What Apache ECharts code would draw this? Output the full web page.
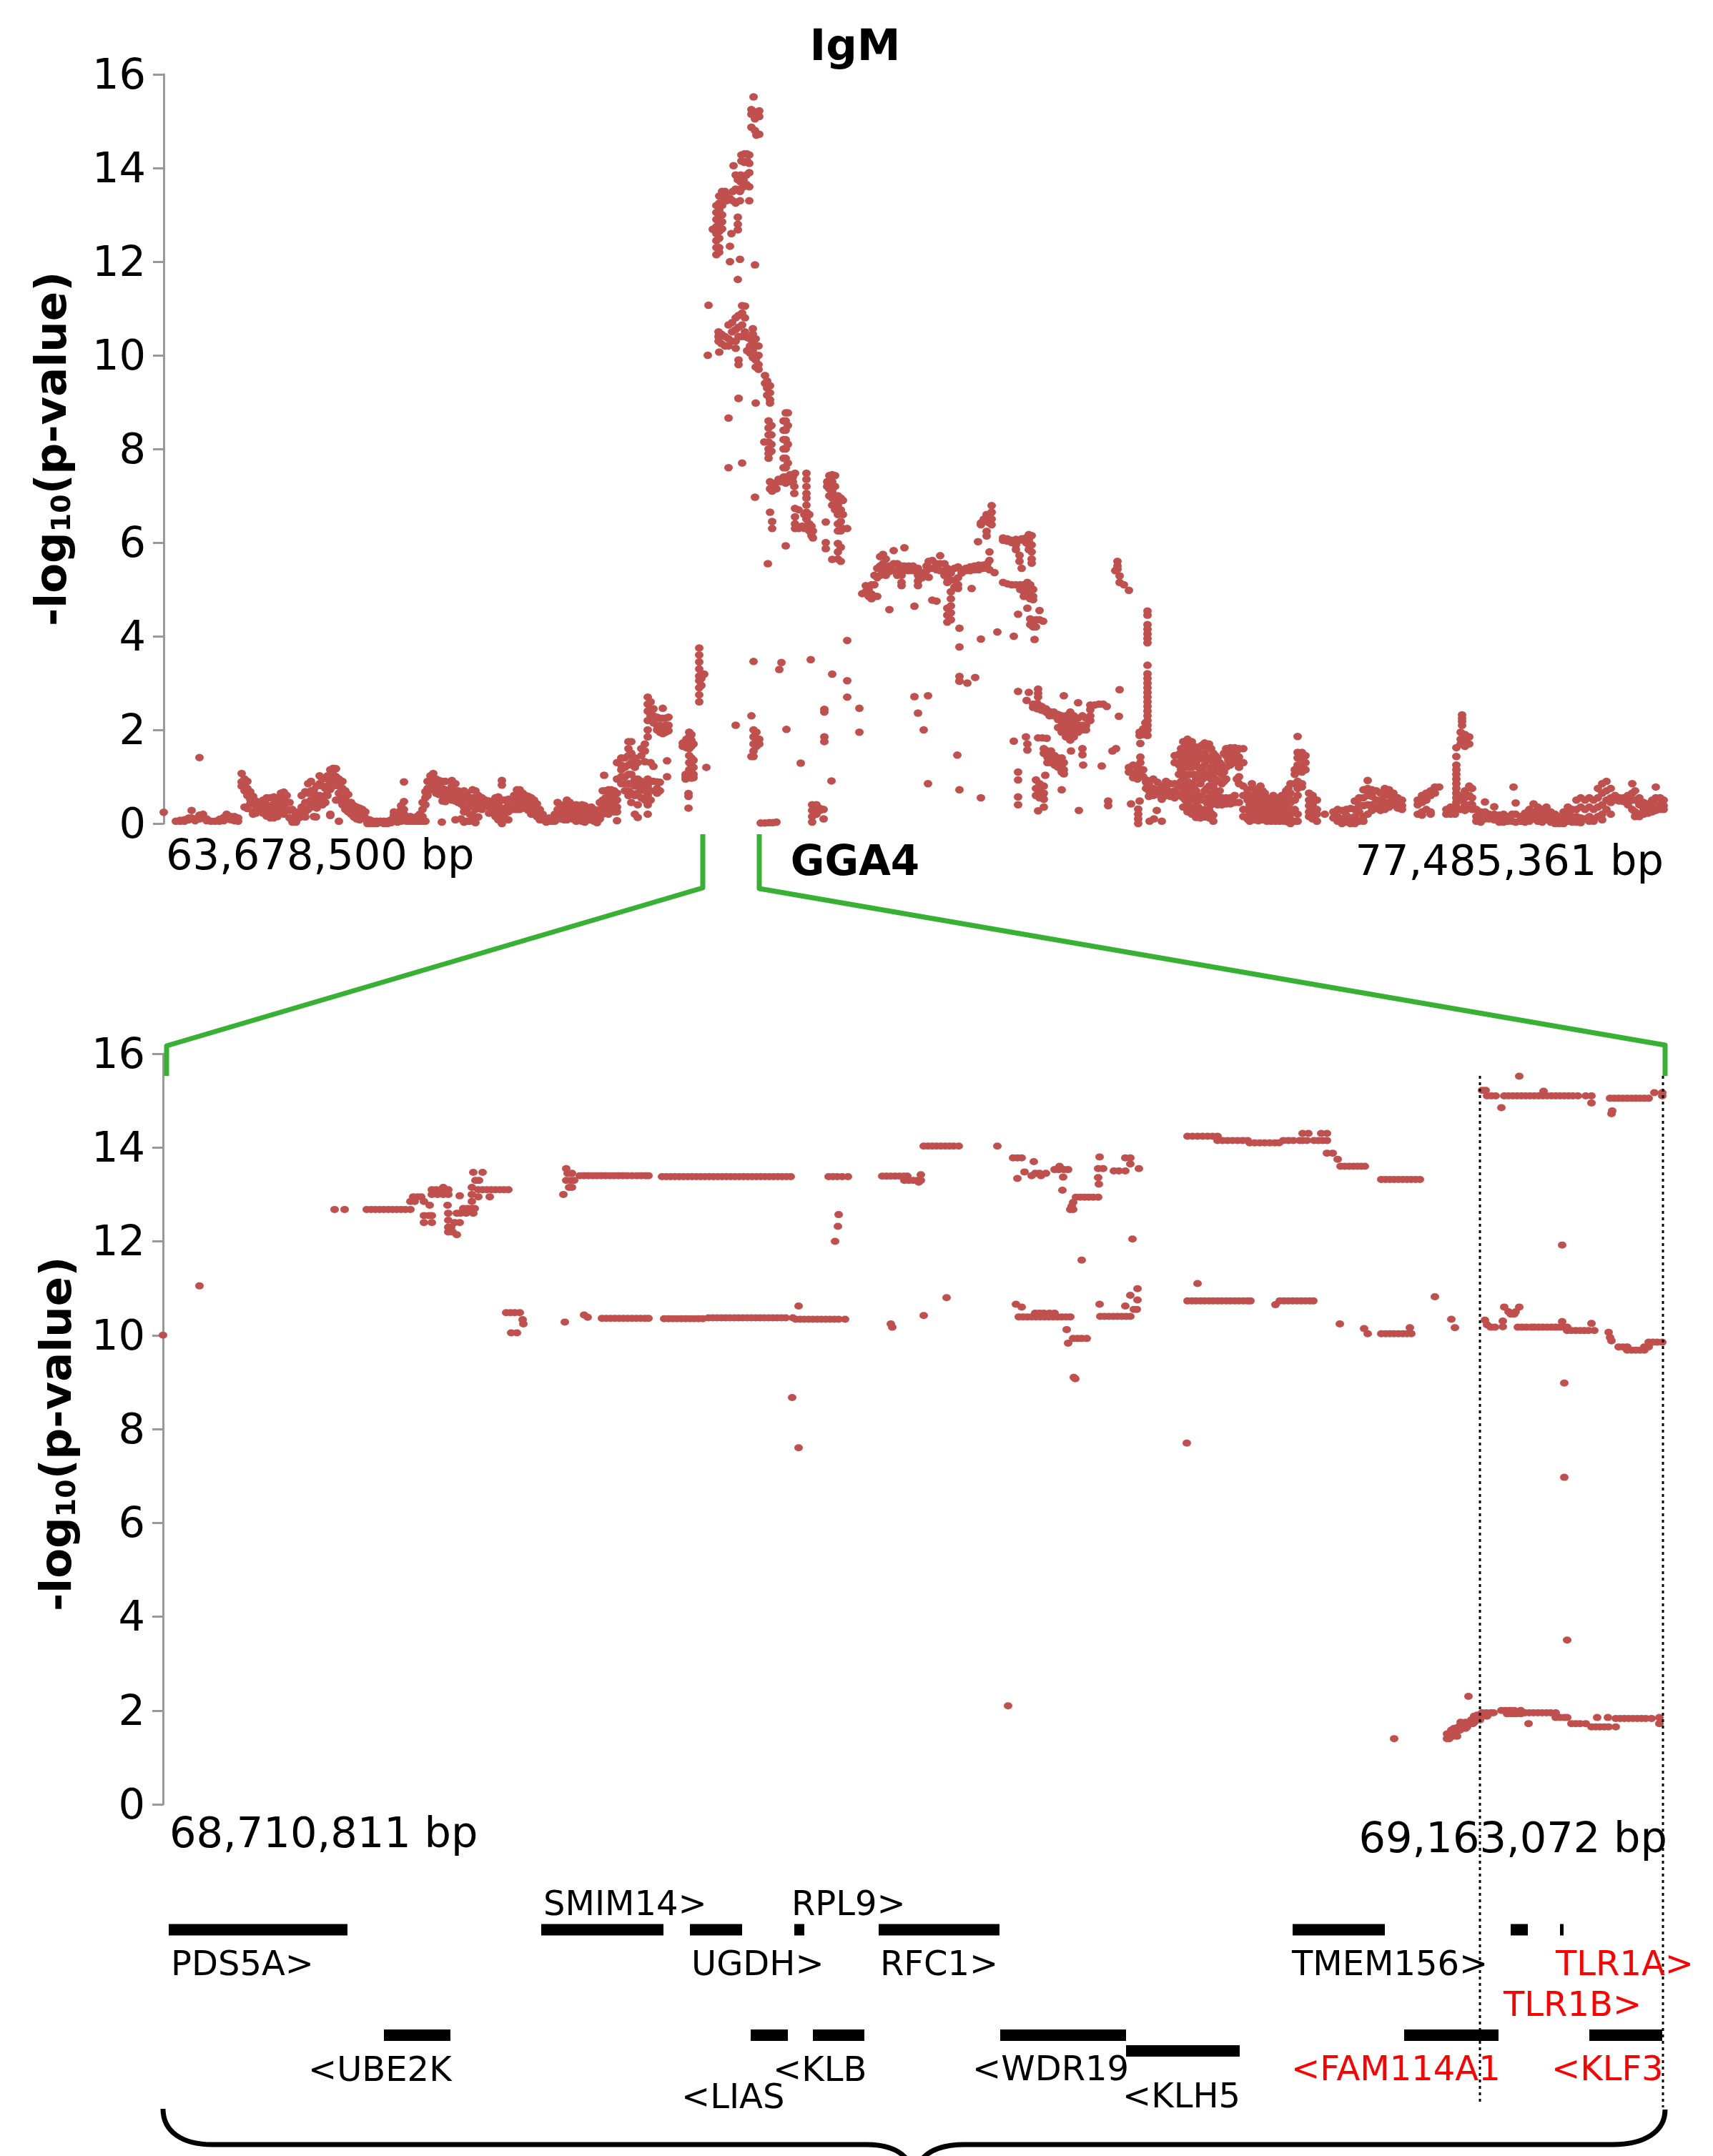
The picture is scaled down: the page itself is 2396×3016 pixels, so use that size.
<!DOCTYPE html>
<html><head><meta charset="utf-8">
<style>html,body{margin:0;padding:0;background:#fff}#c{width:2396px;height:3016px}</style>
<script src="https://cdn.jsdelivr.net/npm/echarts@6/dist/echarts.min.js"></script>
</head><body><div id="c"></div>
<script>
// Genome windows (bp)
const overviewWindow = [63678500, 77485361];
const zoomWindow = [68710811, 69163072];
// Positions below (0 = window start, overviewSpan / zoomSpan = window end)
const overviewSpan = 2098;
const zoomSpan = 2100;
const yTicks = [0, 16, 2];

// Overview: [position, -log10 p values...] by column
const overviewFlank = [
[0,.24],[17,.05],[23,.05,.07],[29,.05,.08],[35,.08,.12],[39,.28,.12],[44,.06,.1],[50,1.41,.1,.18],[55,.2,.12],[60,.1,.06],[66,.05],[72,.05],[78,.05,.09],[84,.06,.13],[88,.2,.1],[94,.08,.15],[99,.06,.12,.15],[104,.05,.12],
[109,1.07,.89,.8],[113,.95,.85,.7,.35],[117,.9,.75,.6,.32],[121,.68,.52,.42],[125,.58,.45,.25,.2],[129,.48,.36,.22],[134,.45,.35,.26],[139,.5,.3,.22],[144,.55,.4,.25,.16],[149,.55,.35,.2,.12],[154,.57,.42,.28,.12],[159,.55,.38,.25,.15],[164,.65,.5,.3],[168,.67,.55,.42,.2],[172,.6,.45,.3],[176,.45,.28,.12],[180,.3,.12,.03],[185,.2,.03,.1],[189,.25,.12],[193,.6,.35,.15],[198,.68,.45,.25,.14],[202,.85,.65,.45,.3],[206,.9,.7,.5,.35],[210,.72,.55,.38,.15],[213,.14],[214,.8,.6,.45,.33],[218,1.02,.85,.6,.42],[222,.95,.8,.55,.4],[226,.75,.6,.45],[229,1.02,.95,.8,.6],[233,1.15,1.02,.88,.73,.2,.17],[237,1.18,1.05,.9,.8],[241,1.17,1.0,.85,.5],[245,.95,.8,.65,.5,.05],[250,.9,.75,.55,.4],[254,.7,.55,.38,.3],[258,.62,.45,.35,.25],[262,.45,.33,.2],[266,.38,.25,.14],[270,.35,.22,.1],[274,.33,.2,.08],[278,.3,.15],[282,.25,.12],
[285,.05,0],[288,.08,0],[293,.05,0],[298,.05,0],[303,.05,.02],[308,.05,0],[313,.05,0],[318,.08,.02],[322,.25,.18,.05],[327,.2,.1,.03],[332,.38,.3,.12,.05],[336,.89,.47,.3,.2,.06],[340,.15,.05],[345,.05,.15],[350,.08,.05],[354,.15,.05],[358,.2,.1,.05],[362,.45,.3,.15,.05],
[366,.68,.55,.4,.05],[369,.9,.75,.6],[373,1.02,.88,.72],[377,1.07,.92,.75],[381,.95,.8,.65],[385,.92,.78,.62],[389,.03],[390,.9,.75,.6,.48],[394,.9,.72,.55,.47],[398,.7,.55],[403,.92,.8,.6,.5],[408,.85,.7,.55,.48,.08],[412,.7,.55,.45],[416,.65,.5,.42,.1],[420,.7,.55,.35,.25,.03],[424,.65,.5,.3,.05],[428,.55,.38,.2,.05],[432,.72,.55,.42,.18,.07],[436,.7,.55,.42,.3,.02],[440,.6,.5,.32,.14],[445,.55,.45,.3],[450,.5,.42],[455,.48,.35,.22],[460,.45,.28],[464,.55,.35,.22,.15],[468,.57,.4,.28,.08],[473,.92,.82,.5,.33,.2,0],[477,.5,.32,.12],[482,.52,.4,.25,.08],[486,.5,.3],[490,.6,.45,.3],[494,.72,.58,.45,.3],[498,.72,.55,.4,.3],[502,.65,.5,.35],[506,.6,.45,.32],[510,.58,.4,.28],[514,.55,.42,.3,.2],[518,.5,.35,.2],[522,.42,.3,.15],[526,.3,.18,.08],[530,.2,.08],[535,.03,.08],[539,.05,.12],[543,.05],[547,.1,.05,.2],
[551,.45,.3,.2],[555,.35,.2,.1],[560,.4,.25,.15,.08],[564,.5,.3,.2,.08],[568,.45,.3,.15],[572,.35,.2,.1],[577,.4,.3,.15,.05],[581,.35,.2,.1],[585,.4,.25,.1,.05],[589,.38,.22,.1,.03],[594,.3,.2,.08],[598,.35,.2,.08],[602,.3,.15,.05],[606,.25,.1,.02],[610,.45,.3,.1],[614,.7,.5,.35,.2],[616,1.03],[618,.7,.55,.4,.25],[622,.72,.55,.4,.2],[626,.72,.6,.45,.3],[630,.7,.55,.35,.25],[634,1.3,.95,.65,.5,.35,.25,.06],
[640,1.4,1.25,1.15,1.0,.85],[645,1.4,1.2,1.0,.85,.7],[650,1.75,1.6,1.45,1.25,1.05,.85,.7,.6],[654,1.75,1.5,1.3,1.05,.85,.65,.45],[659,1.4,1.2,.95,.8,.6,.2],[663,1.3,.95,.8,.65,.4,.13],[668,1.6,1.45,.9,.75,.55],[673,1.7,1.55,1.32,.85,.7,.5],
[677,2.7,2.55,2.4,2.2,2.0,1.85,.95,.8,.6,.4,.2],[681,2.6,2.45,2.3,1.3,.9,.7,.5],[685,2.45,2.3,2.15,1.22,.9],[690,2.27,2.1,2.0,.89,.75,.65],[694,2.25,2.1,1.95,.88,.7],[698,2.46,2.25,2.05,1.92],[702,2.25,2.1,1.95],[704,1.34,1.0],[706,2.27,2.1,1.98],
[726,1.72,1.65],[730,1.05,1.0,.95],[731,1.8,1.68,1.62],[734,.64,.58,.33],[735,1.95,1.85,1.72,1.6,1.45,1.3,1.15,1.0],[738,1.9,1.78,1.65,1.4,1.25,1.1,.97],[741,1.7,1.35,1.2,1.05,.98],[749,3.75,3.6,3.45,3.3,3.15,3.05,2.9,2.75,2.6],[752,3.1,3.2,2.95],[756,3.19],[759,1.2]
];
const overviewPeak = [
[825,15.52],[822,15.25,15.15,14.87],[827,15.2,15.05,14.8],[833,15.22,15.1,14.72],[829,14.7],
[808,14.28,14.15],[812,14.3,14.12],[816,14.3,14.15],[819,14.28,14.1],[797,14.05],[800,13.85],[803,13.75,12.95,12.8,12.68,11.62],[807,13.85,13.7,13.55],[811,13.75,13.6],[815,13.85,13.65],[819,13.9,13.6,13.3],
[787,13.45,13.3],[792,13.35,12.33,12.0],[796,13.5,13.3],[800,13.55,13.25],[806,13.5,13.3,12.05],[794,12.6],[827,11.93],
[773,13.2,13.05,12.9,12.75,12.6,12.45,12.3,12.15],[777,13.4,13.25,13.1,12.95,12.8,12.65,12.5,12.3,12.2],[781,13.5,13.4,13.2,13.0,12.85,12.7],[768,12.69],[785,13.5,13.35],
[762,11.07],[761,10.0],[776,10.5,10.4,10.3],[780,10.45,10.25],[785,10.4,10.2],[790,10.65,10.35,10.2],[795,10.7,10.5,10.3],[800,10.8,10.55,10.3,10.15],[804,10.85,10.6,10.4,9.9,9.8,9.08],[809,11.06,10.9,10.65,10.4],[813,11.05,10.8,10.5],[777,10.07],
[816,10.38,10.1],[820,10.35,10.2,10.05],[824,10.57,10.45,10.3,10.1,9.95],[828,10.35,10.2,9.9,9.75,8.98],[832,10.2,10.0,9.8,9.7],
[841,9.57,9.4],[844,9.45,9.3,9.15],[848,9.35,9.2,9.05,8.98],[804,9.08],[790,8.66,7.6],[809,7.7],[827,6.97],
[846,8.6,8.45,8.3,8.15,8.0,7.9,7.8],[840,8.15],[850,8.5,8.3,8.1,7.95],
[867,8.6,8.4,8.2,8.0,7.8,7.6,7.4],[870,8.77,8.6,8.4,8.2,8.0,7.8,7.6,7.4,7.27,5.93],[873,8.77,8.5,8.1,7.7,7.4],[860,7.35],[864,7.3],[876,7.45,7.3],[880,7.4,7.3],[883,7.48,6.73,6.55,6.4,6.3],[882,7.2,7.05],[848,7.3,7.15,6.65],[851,7.25,7.1,6.45,6.3],[857,7.28,7.15],[845,5.55],
[899,7.48,7.35,7.2,7.05,6.95,6.8,6.65,6.5,6.35],[903,6.6,6.4,6.25],[906,6.35,6.15],[908,6.25,6.1],[888,6.7,6.3],[893,6.35],[896,6.6,6.3],
[928,7.3,7.2],[931,7.43,7.3,7.15,7.0],[935,7.45,7.3,7.1,6.95,6.8],[939,7.43,7.2,7.0,6.85,6.7],[943,7.0,6.8,6.6,6.4,6.25,5.98,5.8,5.65],[947,6.95,6.7,6.45,6.25,5.9,5.6],[950,6.9,6.6,6.3],[956,6.3],[926,6.44,6.0,5.87],[935,5.64]
];
const overviewShoulder = [
[977,4.91],[982,5.08,4.95],[986,5.0,4.85],[990,5.1,4.9,4.8],[994,5.3,5.1,4.85],[998,5.45,5.25,4.85],[1002,5.7,5.5,5.3],[1006,5.75,5.55,5.4],[1010,5.65,5.45,5.3],[1015,5.5,5.38,4.57],[1021,5.83,5.55,5.4],[1026,5.55,5.4,5.3],[1032,5.5,5.3,5.08,5.15],[1036,5.89,5.5,5.4],[1042,5.5,5.4],[1048,5.5,5.4],[1050,4.64],[1055,5.45,5.3,5.08,5.18],[1061,5.35,5.25],
[1067,5.5,5.4],[1070,5.6,5.45,5.26],[1075,5.62,5.45,4.77],[1081,5.55,5.42,4.75],[1086,5.72,5.55,5.4],[1092,5.55,5.4,5.3],[1096,5.45,5.25,5.15,4.6,4.45,4.3],[1101,5.35,5.2,4.95,4.8,4.65,4.5,4.35],[1106,5.45,5.2,5.05],[1111,5.48,5.25,5.1,5.02],[1116,5.4,5.35],[1122,5.45,5.4],[1128,5.48,5.4],[1130,5.02],[1134,5.5,5.42],[1140,5.52,5.42],[1146,5.52,5.45],[1152,5.55,5.45],[1155,5.8,5.62,5.42],[1162,5.36],
[1113,4.17,3.77,3.14,3.04],[1143,3.94],[1166,4.09],[1189,4.0],[1218,3.93],[1124,3.0],[1135,3.12],
[1158,6.79,6.65,6.5,6.38],[1143,6.42,6.38],[1147,6.5],[1151,6.6,6.45,6.24,6.14],[1155,6.58,6.42],[1139,6.02],
[1174,6.1,6.05],[1180,6.08,6.03],[1186,6.05,6.0],[1192,6.07,5.95,5.85],[1197,6.05,5.73,5.6],[1200,6.08,5.45],[1206,6.1,6.0],[1210,6.17,6.05,5.95,5.85],[1214,6.15,5.95,5.8,5.65,5.56],
[1174,5.15],[1180,5.12],[1186,5.1],[1192,5.1],[1198,5.1,5.0],[1203,5.1,4.95,4.85],[1208,5.15,5.0,4.85,4.6],[1212,5.1,4.95,4.8,4.37,4.25],[1216,5.0,4.85,4.78,4.3,4.2],[1220,4.35,4.2],[1225,4.55,4.35],[1230,4.32],[1195,4.47],
[1334,5.6,5.5,5.43],[1331,5.4],[1337,5.29,5.15],[1343,5.1],[1350,4.98],
[1376,4.54,4.45,4.25,4.15,4.05,3.95,3.86,3.38,3.2,3.1,3.0,2.9,2.8,2.7,2.6,2.5,2.4,2.3,2.2,2.1,2.0,1.88],[1365,1.95,1.88],[1370,2.02,1.9],[1373,2.15,1.95],
[1337,2.86],[1336,2.29],
[973,2.46,1.95],[1050,2.71],[1069,2.73,.85],[1055,2.36],[1063,2.0],[1110,1.46],[1113,3.04,.72],[1143,.55],
[825,3.46],[864,3.44],[861,3.29],[905,3.5],[956,3.91,3.05,2.7],[935,3.19],[924,2.44,2.38,1.85,1.75],[822,2.3,1.43],[800,2.1],[871,2.01],[825,2.0,1.85,1.7,1.55,1.43],[829,1.95,1.8,1.65],[833,1.8,1.7],[891,1.29],[934,.91],[907,.4,.28,.15,.03],[913,.4,.3,.2],[918,.32,.28],[923,.3,.1],[835,.01],[841,.01],[847,.02],[852,.02],[857,.03],
[1195,2.82,1.1,.93,.57,.4],[1210,2.8],[1207,2.63],[1223,2.87,2.78,2.7,.27],[1216,2.55,2.48],[1222,2.56,2.45],[1228,2.5,2.42],[1234,2.45,2.38],[1239,2.39,2.3],[1245,2.38,2.3],[1251,2.33,2.22,2.05],[1256,2.3,2.2,2.1,1.95],[1259,2.73,2.25,2.05],[1262,2.3,2.15,2.0,1.85],[1268,2.38,2.2,2.05,1.9,1.78],[1273,2.3,2.15,2.0,1.85],[1279,2.58,2.25,2.1,1.95],[1285,2.3,2.1,2.0],[1290,2.25,2.1,2.0],[1296,2.53,2.43,2.3,2.2],[1302,2.53],[1308,2.55],[1314,2.55],[1319,2.5],
[1189,1.76],[1206,1.85],[1208,1.7,1.57],[1223,1.83],[1229,1.83],[1235,1.82],[1231,1.6,1.5,.8,.65,.52,.35],[1236,1.55,1.42,1.3],[1241,1.55,1.4,1.3],[1246,1.45,1.35,1.25],[1251,1.4,1.3,1.2],[1256,1.4,1.25,1.1,.72],[1259,1.3,1.15,1.06],[1269,1.55],[1285,1.6,1.47],[1286,1.25],[1312,1.23],[1327,1.55],[1332,1.6],[1220,.93,.75,.6],[1225,.85,.7,.55],[1233,1.03],[1280,.28],[1321,.48,.38]
];
const overviewTail = [
[1350,1.2,1.1],[1356,1.25,1.08,.98],[1362,1.18,1.05,.95],[1366,1.71,1.42,1.3,1.1],[1370,1.15,1.0],[1374,.93,.88,.75],[1353,.42],[1365,.48],[1363,.31,.2,.1,0],[1389,.28],[1379,.05],[1396,.05],[1385,.1],
[1378,.85,.7,.58],[1384,.95,.75,.6],[1390,.88,.72,.62],[1396,.8,.65,.52],[1402,.9,.75,.6],[1408,.85,.68,.58],[1414,1.45,1.3,.85,.7,.55],[1420,1.48,1.25,1.05,.8,.6],[1426,1.75,1.45,1.25,.95,.7,.55,.35],[1432,1.8,1.6,1.4,1.2,.9,.65,.4,.25],[1438,1.75,1.5,1.2,.85,.6,.3,.2],[1444,1.55,1.3,.95,.7,.45,.25,.13],[1450,1.65,1.5,1.1,.85,.5,.2,.12],[1456,1.72,1.5,1.25,1.0,.7,.3,.14],[1462,1.7,1.4,1.1,.8,.55,.3,.12],[1468,1.5,1.3,1.05,.8,.5,.05,.18],[1474,1.4,1.15,.9,.6,.4],[1480,1.25,1.05,.85,.55,.4],[1486,1.6,1.45,1.2,.95,.55,.42],[1492,1.62,1.4,1.25,.55,.42],[1498,1.62,1.45,1.3,.6,.45],[1504,1.6,1.42,1.2,1.0,.85,.45],[1510,1.6,1.3,.8,.6,.3,.15],[1516,.72,.5,.3,.15,.1],[1522,.85,.6,.4,.2,.1],[1528,.7,.55,.35,.15],[1534,.8,.55,.3,.12],[1540,.65,.45,.25,.15],[1546,.5,.3,.2,.12],[1552,.6,.45,.25,.08],[1558,.55,.35,.15,.1],[1564,.6,.45,.3,.15],[1570,.7,.5,.25,.1],[1576,.85,.65,.45,.2,.08,0],[1582,1.15,1.05,.85,.5,.3,.05],[1586,1.86,1.52,1.4,1.25,1.15,.9,.75,.6,.2,.05],[1592,1.52,1.38,1.25,1.1,.85,.78],[1597,1.45,1.3,1.15],[1602,.65,.5,.38,.25,.15],[1607,.6,.4,.25,.1],[1613,.5,.3,.2,.05],[1624,.2],
[1636,.25,.12],[1642,.3,.15,.05],[1648,.28,.1,0],[1654,.3,.18,.03],[1660,.32,.12,0],[1666,.48,.3,.15,0],[1672,.55,.4,.25,.05],[1678,.72,.55,.38,.15,.05],[1684,.92,.75,.6,.4,.2],[1690,.72,.58,.4,.28],[1696,.7,.5,.32],[1702,.65,.5,.4,.28],[1708,.75,.6,.45,.3],[1714,.72,.6,.45,.35],[1720,.65,.52,.4],[1726,.55,.42,.33],[1732,.5,.38,.3],
[1754,.5,.4,.2],[1760,.6,.45,.25,.18],[1766,.65,.5,.3],[1772,.7,.6,.25,.2],[1778,.78,.65],[1784,.78],[1794,.3,.2],[1800,.35,.25,.2],[1806,.3,.2],[1808,1.62,1.43,1.25,1.15,1.05,.95,.85,.75,.65,.55,.45,.35],[1814,1.95,1.8,1.7,.6,.5,.3],[1816,2.32,2.25,2.18,2.1],[1820,1.9,1.75,1.65,.7,.55,.4,.28],[1826,1.85,1.7,.8,.6,.4],[1830,.75,.55,.4,.3],[1836,.3,.15,.05],[1842,.25,.12,.03],[1848,.46,.25,.1],[1854,.2,.1],[1861,.36,.2,.08],[1868,.18,.1,.03],[1874,.2,.08,.03],[1880,.15,.05],[1886,.2,.05],[1888,.78],[1891,.44,.2,.03],[1898,.15,.05],[1904,.22,.08,.03],[1910,.3,.15,.05],[1916,.42,.25,.1],[1922,.35,.2,.05],[1928,.3,.15,.03],[1934,.35,.2,.08],[1940,.25,.12,.03],[1946,.2,.08,0],[1952,.15,.05,0],[1958,.25,.1,0],[1964,.35,.2,.05],[1970,.3,.15,.03],[1976,.5,.3,.15,.03],[1982,.55,.35,.12,.02],[1988,.5,.3,.1],[1994,.55,.35,.15,.05],[2000,.5,.3,.1,.05],[2006,.75,.55,.35,.15],[2012,.85,.65,.4,.2,.08],[2018,.9,.7,.5,.3],[2024,.75,.55,.45,.2],[2030,.6,.5],[2036,.55,.48],[2042,.55,.47],[2048,.6,.48,.4],[2054,.85,.65,.5,.3],[2058,.7,.5,.25,.15],[2064,.55,.4,.2,.15],[2070,.45,.3,.2],[2076,.42,.3,.22],[2082,.5,.35,.25],[2087,.78,.55,.4,.28],[2093,.55,.4,.3],[2098,.5,.38,.3]
];
const overviewCloud = [
[1423,1.6,1.35,1.15,.9,.65],[1429,1.7,1.5,1.3,1.05,.8,.5],[1435,1.7,1.5,1.3,1.05,.75,.5,.3],[1441,1.65,1.4,1.05,.78,.55,.35],[1447,1.55,1.4,1.2,.95,.6,.35,.15],[1453,1.68,1.38,1.15,.95,.6,.25],[1459,1.6,1.35,1.0,.75,.45,.2],[1465,1.6,1.2,.95,.65,.4,.22],[1471,1.45,1.2,.95,.7,.45],[1477,1.3,1.1,.9,.7,.48],[1483,1.5,1.1,.9,.5],[1489,1.55,1.35,.5],[1495,1.55,1.35,.5],[1501,1.55,1.3,.95],
[1519,.6,.4,.22,.05],[1525,.75,.48,.28,.08],[1531,.65,.42,.22,.06],[1537,.7,.4,.2,.08],[1543,.55,.35,.18,.05],[1549,.5,.35,.15,.05],[1555,.45,.25,.05],[1561,.5,.3,.2,.05],[1567,.6,.38,.2,.05],[1573,.75,.55,.35,.15,.03]
];

// Zoom panel: [-log10 p, positions...] by row
const zoomRows13 = [
[12.68,240,254,285,291,297,303,309,315,321,327,333,339,346],[12.95,350,356,361],[12.85,346,352,365],[12.77,373,398],[12.55,365,372,376],[12.4,365,376,408,415],
[13.1,376,382,388,394,399],[13.0,376,384,392,399,432],[13.15,392,432],[12.97,415],[12.6,399,411,416,424,434],[12.45,399],[12.3,399,403],[12.2,399,405],[12.14,411],[12.7,420,426,432,436],[12.85,432],
[13.1,441,447,453,459,465,471,477,483],[12.95,441,457],[13.47,434,447],[13.3,437,442],[13,560],[13.55,564],[13.45,566,572],[13.3,564,570,575],[13.15,568,572],
[13.4,583,589,595,601,607,613,619,625,631,637,643,649,656,663,669,675,679],
[13.38,698,704,710,716,722,728,734,740,746,752,758,764,770,776,782,788,794,800,806,812,818,824,830,836,842,848,854,860,866,872,878,931,937,943,950,958],
[12.57,945],[12.32,944],[12,940],
[13.39,1006,1012,1018,1024,1030,1036,1041],[13.3,1037,1043,1049,1055,1060],[13.42,1060],[13.26,1057],
[14.03,1064,1070,1076,1082,1088,1094,1100,1106,1113,1167],
[13.78,1189,1195,1201,1346,1353],[13.7,1218],[13.34,1195],[13.48,1205],[13.4,1215,1228],[13.45,1220,1226,1235],[13.53,1247,1253,1260,1266],[13.6,1254],[13.37,1259],[13.09,1258],
[12.94,1277,1283,1289,1295,1301,1308],[12.83,1273],[12.75,1271],[12.68,1269,1273],[13.8,1310],[13.55,1308,1315,1365],[13.5,1330,1337,1346],[13.36,1308],[13.22,1309],[13.65,1353],
[14.24,1433,1440,1447,1454,1461,1468,1475],[14.15,1475,1482,1489,1496,1503,1510,1517,1567,1574,1581,1590],[14.1,1520,1527,1534,1541,1548,1555,1561],[14.3,1594,1602,1620,1628],[14.15,1594,1600,1610,1616,1622,1628],
[13.88,1628,1636],[13.75,1643],[13.6,1647,1653,1659,1665,1671,1676,1681],[13.32,1704,1710,1716,1722,1728,1734,1740,1746,1752,1758],
[15.22,1845,1850],[15.1,1852,1858,1864,1876,1882,1888,1894,1900,1906,1912,1918,1924,1930,1936,1942,1948,1954,1960,1966,1972,1979,1990,1998],[15.52,1897],[14.85,1872],[15.2,1931],[14.95,1998],[14.72,2026],[14.78,2027],
[15.05,2024,2030,2036,2042,2048,2054,2060,2066,2072,2078],[15.17,2086,2097],[15.1,2097],[11.92,1957],[12.05,1356],[11.6,1285]
];
const zoomRows10 = [
[10,0],[11.05,51],[10.48,480,486,492,499],[10.33,503],[10.24,504],[10.05,487,495],[10.28,562],[10.43,589],[10.38,594],
[10.36,614,620,626,632,638,644,650,656,662,668,674,679],[10.35,701,707,713,719,725,731,737,743,749,755],[10.37,763,769,775,781,787,793,799,805,811,817,823,829,835,841,847,853,859,865,871,881],[10.62,889],[10.34,885,891,897,903,909,915,921,927,933,939,945,954],
[10.24,1018,1646],[10.17,1020],[10.42,1064],[10.8,1096],[10.66,1193,1310],[10.6,1201],[10.39,1197,1203,1209,1215,1221,1227,1233,1239,1245,1251,1257,1263,1269],[10.47,1220,1226,1232,1240,1247],[10.12,1264],[9.83,1266],[9.93,1273,1279,1285,1292],[9.07,1276],
[10.4,1311,1317,1323,1329,1335,1341,1347,1353],[10.62,1346],[10.85,1353],[10.99,1363],[10.75,1363],[10.55,1358,1362],
[10.73,1433,1439,1445,1451,1457,1463,1469,1475,1481,1487,1493,1499,1505,1511,1517,1521,1562,1568,1574,1580,1586,1592,1598,1604,1609],[10.65,1556],[11.1,1447],
[10.14,1680],[10.03,1685,1704,1710,1716,1722,1728,1734,1740,1746],[10.16,1744,1807],[10.82,1779],[10.34,1802],
[10.32,1849],[10.22,1852],[10.17,1857,1863,1895,1901,1907,1914,1918,1924,1930,1936,1942,1948,1954,1960,1964],[10.3,1874],[10.18,1874],[10.6,1876,1897],[10.5,1882,1892],[10.45,1885,1890],[10.29,1957],
[10.1,1964,1970,1976,1982,1988,1994,2002],[10.25,1998],[10.06,2022],[9.95,2024],[9.88,2026],[9.75,2036,2042,2048],[9.68,2048,2054,2060,2066,2072],[9.75,2072,2078],[9.85,2078,2084,2090,2097]
];
const zoomRowsLow = [
[8.67,880],[7.6,889],[9.1,1274],[7.7,1432],[8.98,1960],[6.97,1960],[3.5,1964],[2.1,1182],[1.4,1722],[2.3,1826],
[1.4,1796,1799],[1.5,1796,1800,1806],[1.45,1800,1804,1810],[1.58,1802,1808,1814],[1.62,1806,1810,1818,1822],[1.65,1812,1818,1824],[1.72,1820,1826,1832],[1.75,1815,1822,1828,1834],[1.8,1830,1836,1842],[1.88,1834,1840,1846,1852],[1.9,1838,1844],[1.95,1845,1851,1857,1861],[2.0,1872,1878,1884,1890,1899],[1.93,1880,1886,1892,1899],[1.95,1905,1911,1917,1923,1929,1935,1941,1948],[1.72,1910],[1.85,1948,1954,1960,1964],[1.72,1970,1976,1982,1990],[1.65,1998,2004,2010,2016,2022,2032],[1.85,2006,2021],[1.83,2032,2038,2044,2050,2056,2062,2068,2074,2082],[1.85,2093],[1.72,2093]
];

// Gene tracks
const geneStart = [8,529,737,883,1001,1580,1885,1954,309,822,909,1171,1347,1736,1995];
const geneEnd   = [258,700,810,897,1170,1709,1909,1959,402,874,981,1347,1506,1868,2097];
const geneLane  = [7.7,7.7,7.7,7.7,7.7,7.7,7.7,7.7,1,1,1,1,0,1,1];
const geneTexts = [
 ['PDS5A>',239,2746,0],['SMIM14>',760,2662,0],['UGDH>',967,2746,0],['RPL9>',1107,2662,0],['RFC1>',1231,2746,0],['TMEM156>',1807,2746,0],['TLR1A>',2176,2746,1],['TLR1B>',2103,2803,1],
 ['<UBE2K',431,2894,0],['<LIAS',953,2932,0],['<KLB',1081,2894,0],['<WDR19',1360,2893,0],['<KLH5',1570,2931,0],['<FAM114A1',1806,2893,1],['<KLF3',2170,2893,1]
];

const toOverviewBp = t => overviewWindow[0] + t / overviewSpan * (overviewWindow[1] - overviewWindow[0]);
const toZoomBp = t => zoomWindow[0] + t / zoomSpan * (zoomWindow[1] - zoomWindow[0]);
const overviewData = [];
[overviewFlank, overviewPeak, overviewShoulder, overviewTail, overviewCloud].forEach(set => set.forEach(col => {
  col.slice(1).forEach(y => overviewData.push([toOverviewBp(col[0]), y]));
}));
const zoomData = [];
[zoomRows13, zoomRows10, zoomRowsLow].forEach(set => set.forEach(row => {
  row.slice(1).forEach(t => zoomData.push([toZoomBp(t), row[0]]));
}));
const geneData = geneStart.map((s, i) => [toZoomBp(s), toZoomBp(geneEnd[i]), geneLane[i]]);

const FONT = '"DejaVu Sans", sans-serif';
const GREY = '#999999', RED = '#c0504d', GREEN = '#37b034';
const TEXT_DY = 5;
const yLabelName = '{b|-log}{s|10}{b|(p-value)}';
function yLabelStyle(pad) {
  return {
    fontFamily: FONT, padding: pad,
    rich: {
      b: {fontFamily: FONT, fontSize: 61, fontWeight: 'bold', color: '#000', lineHeight: 72, verticalAlign: 'bottom'},
      s: {fontFamily: FONT, fontSize: 38, fontWeight: 'bold', color: '#000', lineHeight: 40, verticalAlign: 'bottom'}
    }
  };
}
function yAxisFor(gridIndex, gap, pad, labelPad) {
  return {
    type: 'value', gridIndex, min: yTicks[0], max: yTicks[1], interval: yTicks[2],
    name: yLabelName, nameLocation: 'middle', nameRotate: 90, nameGap: gap, nameTextStyle: yLabelStyle(pad),
    axisLine: {show: true, lineStyle: {color: GREY, width: 3}},
    axisTick: {show: true, length: 15, lineStyle: {color: GREY, width: 3}},
    axisLabel: {
      margin: 25, formatter: '{v|{value}}',
      rich: {v: {fontFamily: FONT, fontSize: 59, color: '#000', lineHeight: 68, verticalAlign: 'bottom', padding: [labelPad, 0, 0, 0]}}
    },
    splitLine: {show: false}
  };
}
function text(str, x, y, opt) {
  return {type: 'text', x, y: y + TEXT_DY, z: 20, silent: true, style: Object.assign({
    text: str, fontFamily: FONT, fontSize: 59, fill: '#000', textAlign: 'left', textVerticalAlign: 'middle', verticalAlign: 'middle'
  }, opt || {})};
}
function stroke(type, shape, color, width, extra) {
  return {type, shape, z: 15, silent: true, style: Object.assign({stroke: color, lineWidth: width, fill: null}, extra || {})};
}
const graphics = [
  text('IgM', 1196, 63, {fontSize: 61, fontWeight: 'bold', textAlign: 'center', align: 'center'}),
  text('GGA4', 1196, 1204, {fontSize: 58, fontWeight: 'bold', textAlign: 'center', align: 'center'}),
  text('63,678,500 bp', 232, 1196),
  text('77,485,361 bp', 2327, 1204, {textAlign: 'right', align: 'right'}),
  text('68,710,811 bp', 237, 2564),
  text('69,163,072 bp', 2332, 2571, {textAlign: 'right', align: 'right'}),
  stroke('polyline', {points: [[983,1167],[983,1242],[233,1463],[233,1505]]}, GREEN, 7, {lineJoin: 'round'}),
  stroke('polyline', {points: [[1062,1167],[1062,1243],[2329,1462],[2329,1505]]}, GREEN, 7, {lineJoin: 'round'}),
  stroke('line', {x1: 2070, y1: 1505, x2: 2070, y2: 2941}, '#000', 3, {lineDash: [4, 5]}),
  stroke('line', {x1: 2326, y1: 1505, x2: 2326, y2: 2948}, '#000', 3, {lineDash: [4, 5]}),
  stroke('bezierCurve', {x1: 228, y1: 2950, cpx1: 228, cpy1: 2982, cpx2: 255, cpy2: 3000, x2: 297, y2: 3000}, '#000', 7),
  stroke('line', {x1: 297, y1: 3000, x2: 1212, y2: 3000}, '#000', 7),
  stroke('bezierCurve', {x1: 1212, y1: 3000, cpx1: 1240, cpy1: 3000, cpx2: 1258, cpy2: 3008, x2: 1268, y2: 3020}, '#000', 7),
  stroke('bezierCurve', {x1: 1290, y1: 3020, cpx1: 1300, cpy1: 3008, cpx2: 1320, cpy2: 3000, x2: 1349, y2: 3000}, '#000', 7),
  stroke('line', {x1: 1349, y1: 3000, x2: 2256, y2: 3000}, '#000', 7),
  stroke('bezierCurve', {x1: 2256, y1: 3000, cpx1: 2300, cpy1: 3000, cpx2: 2329, cpy2: 2982, x2: 2329, y2: 2951}, '#000', 7)
].concat(geneTexts.map(g => text(g[0], g[1], g[2], {fontSize: 48, fill: g[3] ? '#ff0000' : '#000'})));

const chart = echarts.init(document.getElementById('c'), null, {renderer: 'canvas', width: 2396, height: 3016});
chart.setOption({
  animation: false,
  backgroundColor: '#fff',
  grid: [
    {left: 229, top: 104, width: 2098, height: 1048},
    {left: 228, top: 1474, width: 2100, height: 1050},
    {left: 228, top: 2699.5, width: 2100, height: 169.4}
  ],
  xAxis: [
    {type: 'value', gridIndex: 0, min: overviewWindow[0], max: overviewWindow[1], show: false},
    {type: 'value', gridIndex: 1, min: zoomWindow[0], max: zoomWindow[1], show: false},
    {type: 'value', gridIndex: 2, min: zoomWindow[0], max: zoomWindow[1], show: false}
  ],
  yAxis: [
    yAxisFor(0, 122, [0, 0, 0, 0], 8),
    yAxisFor(1, 114, [0, 14, 0, 0], 4),
    {type: 'value', gridIndex: 2, min: 0, max: 7.7, show: false}
  ],
  series: [
    {type: 'scatter', xAxisIndex: 0, yAxisIndex: 0, data: overviewData, symbol: 'circle', symbolSize: [12, 10.5], clip: false, silent: true, itemStyle: {color: RED, opacity: 1}},
    {type: 'scatter', xAxisIndex: 1, yAxisIndex: 1, data: zoomData, symbol: 'circle', symbolSize: [12, 10], clip: false, silent: true, itemStyle: {color: RED, opacity: 1}},
    {type: 'custom', xAxisIndex: 2, yAxisIndex: 2, data: geneData, silent: true, clip: false, encode: {x: [0, 1], y: 2},
      renderItem(params, api) {
        const a = api.coord([api.value(0), api.value(2)]);
        const b = api.coord([api.value(1), api.value(2)]);
        return {type: 'rect', shape: {x: a[0], y: a[1] - 8, width: b[0] - a[0], height: 16}, style: {fill: '#000'}};
      }}
  ],
  graphic: {elements: graphics}
});
</script></body></html>
